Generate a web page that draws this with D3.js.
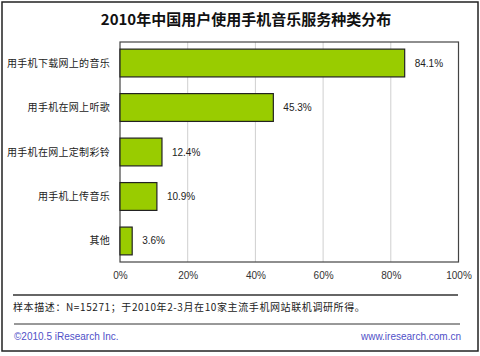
<!DOCTYPE html>
<html><head><meta charset="utf-8">
<script src="https://cdn.jsdelivr.net/npm/d3@7"></script>
<style>
html,body{margin:0;padding:0;background:#fff;}
svg{display:block;}
</style></head>
<body><svg id="c" width="480" height="356"></svg>
<script>
const titleText = "2010年中国用户使用手机音乐服务种类分布";
const categories = ["用手机下载网上的音乐","用手机在网上听歌","用手机在网上定制彩铃","用手机上传音乐","其他"];
const values = [84.1, 45.3, 12.4, 10.9, 3.6];
const tickValues = [0, 20, 40, 60, 80, 100];
const noteText = "样本描述：N=15271；于2010年2-3月在10家主流手机网站联机调研所得。";
const footLeft = "©2010.5 iResearch Inc.";
const footRight = "www.iresearch.com.cn";

const svg = d3.select("#c");
const cjk = "'Noto Sans CJK SC', 'Noto Sans', sans-serif";
const lat = "'Liberation Sans', Arial, sans-serif";

// outer border
svg.append("rect").attr("x",2).attr("y",2).attr("width",476).attr("height",349)
  .attr("fill","#fff").attr("stroke","#222").attr("stroke-width",1.5);

svg.append("text").attr("x",246).attr("y",25).attr("text-anchor","middle")
  .attr("font-family",cjk).attr("font-size",15).attr("font-weight","bold").attr("fill","#111")
  .text(titleText);

const x = d3.scaleLinear().domain([0,100]).range([120,458.5]);
const y = d3.scaleBand().domain(categories).range([42,262]).paddingInner(0.375).paddingOuter(0.16);

// grid
svg.append("g").selectAll("line").data(tickValues.filter(t=>t>0 && t<100)).join("line")
  .attr("x1",d=>x(d)).attr("x2",d=>x(d)).attr("y1",42).attr("y2",262)
  .attr("stroke","#cfcfcf").attr("stroke-width",1);

// frame
svg.append("rect").attr("x",120).attr("y",42).attr("width",x(100)-120).attr("height",220)
  .attr("fill","none").attr("stroke","#444").attr("stroke-width",1.2);

// bars
svg.append("g").selectAll("rect").data(values).join("rect")
  .attr("x",x(0)).attr("y",(d,i)=>y(categories[i]))
  .attr("width",d=>x(d)-x(0)).attr("height",y.bandwidth())
  .attr("fill","#99cc00").attr("stroke","#222").attr("stroke-width",1.2);

// value labels
svg.append("g").selectAll("text").data(values).join("text")
  .attr("x",d=>x(d)+10).attr("y",(d,i)=>y(categories[i])+y.bandwidth()/2+3.5)
  .attr("font-family",lat).attr("font-size",10).attr("fill","#222")
  .text(d=>d.toFixed(1)+"%");

// category labels
svg.append("g").selectAll("text").data(categories).join("text")
  .attr("x",110).attr("y",d=>y(d)+y.bandwidth()/2+3.5).attr("text-anchor","end")
  .attr("font-family",cjk).attr("font-size",10).attr("letter-spacing",0.3).attr("fill","#222")
  .text(d=>d);

// x axis tick labels
const axis = d3.axisBottom(x).tickValues(tickValues).tickSize(0).tickPadding(0).tickFormat(d=>d+"%");
const ag = svg.append("g").attr("transform","translate(0,275)").call(axis);
ag.select(".domain").remove();
ag.selectAll("text").attr("font-family",lat).attr("font-size",10).attr("fill","#333").attr("dy","0.35em");

// separators
svg.append("line").attr("x1",13).attr("x2",458).attr("y1",295).attr("y2",295).attr("stroke","#666").attr("stroke-width",2);
svg.append("line").attr("x1",14).attr("x2",460).attr("y1",324).attr("y2",324).attr("stroke","#333").attr("stroke-width",1);

svg.append("text").attr("x",13).attr("y",311).attr("font-family",cjk).attr("font-size",10).attr("letter-spacing",0.6).attr("fill","#222").text(noteText);
svg.append("text").attr("x",14).attr("y",340).attr("font-family",lat).attr("font-size",10).attr("fill","#5050c8").text(footLeft);
svg.append("text").attr("x",461).attr("y",340).attr("text-anchor","end").attr("font-family",lat).attr("font-size",10).attr("fill","#5050c8").text(footRight);
</script></body></html>
